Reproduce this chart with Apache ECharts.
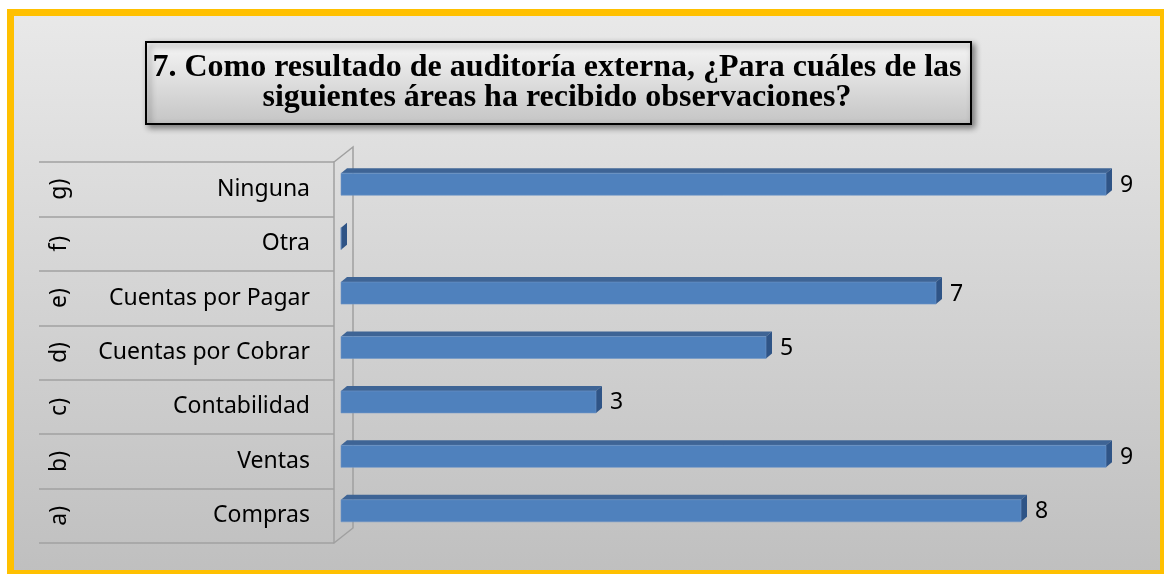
<!DOCTYPE html>
<html>
<head>
<meta charset="utf-8">
<script src="https://cdn.jsdelivr.net/npm/echarts@6/dist/echarts.min.js"></script>
<style>
  html, body { margin: 0; padding: 0; background: #fff; }
  #chart { width: 1164px; height: 574px; }
</style>
</head>
<body>
<div id="chart"></div>
<script>
var letters = ['a)', 'b)', 'c)', 'd)', 'e)', 'f)', 'g)'];
var categories = ['Compras', 'Ventas', 'Contabilidad', 'Cuentas por Cobrar', 'Cuentas por Pagar', 'Otra', 'Ninguna'];
var values = [8, 9, 3, 5, 7, 0, 9];

var chart = echarts.init(document.getElementById('chart'));

var labelFont = '"Noto Sans", "Open Sans", sans-serif';

// barra 3D: cara frontal, cara superior y lateral
function renderBar(params, api) {
	var idx = api.value(1);
	var val = api.value(0);
	var p0 = api.coord([0, idx]);
	var p1 = api.coord([val, idx]);
	var h = 22, dx = 6, dy = -5;
	var x0 = p0[0], x1 = p1[0];
	var yt = p0[1] - h / 2, yb = p0[1] + h / 2;
	var children = [
		{ type: 'polygon', shape: { points: [[x0, yt], [x0 + dx, yt + dy], [x1 + dx, yt + dy], [x1, yt]] }, style: { fill: '#3e6495' } },
		{ type: 'polygon', shape: { points: [[x1, yt], [x1 + dx, yt + dy], [x1 + dx, yb + dy], [x1, yb]] }, style: { fill: '#2f5486' } },
		{ type: 'rect', shape: { x: x0, y: yt, width: x1 - x0, height: h }, style: { fill: '#4f81bd', stroke: '#6f96c6', lineWidth: 0.6 } }
	];
	if (val > 0) {
		children.push({
			type: 'text',
			style: {
				text: String(val), x: x1 + dx + 8, y: p0[1] + 1,
				verticalAlign: 'middle', align: 'left',
				font: '23px ' + labelFont, fill: '#000'
			}
		});
	}
	return { type: 'group', children: children };
}

var option = {
	backgroundColor: '#fff',
	animation: false,
	title: {
		text: '7. Como resultado de auditoría externa, ¿Para cuáles de las\nsiguientes áreas ha recibido observaciones?',
		left: 552,
		top: 48,
		textAlign: 'center',
		textStyle: {
			fontFamily: '"Liberation Serif", "Times New Roman", serif',
			fontWeight: 'bold',
			fontSize: 32,
			lineHeight: 30,
			color: '#000'
		},
		z: 10
	},
	graphic: [
		{
			type: 'rect', z: -10,
			shape: { x: 10.5, y: 12.5, width: 1153, height: 561 },
			style: {
				stroke: '#ffc000', lineWidth: 7,
				fill: new echarts.graphic.LinearGradient(0, 0, 0, 1, [
					{ offset: 0, color: '#e9e9e9' },
					{ offset: 1, color: '#bfbfbf' }
				])
			}
		},
		{
			type: 'rect', z: 5,
			shape: { x: 146, y: 42, width: 825, height: 82 },
			style: {
				stroke: '#000', lineWidth: 2,
				fill: new echarts.graphic.LinearGradient(0, 0, 0, 1, [
					{ offset: 0, color: '#f6f6f6' },
					{ offset: 1, color: '#c4c4c4' }
				]),
				shadowBlur: 6, shadowOffsetX: 3, shadowOffsetY: 3, shadowColor: 'rgba(0,0,0,0.45)'
			}
		},
		{
			type: 'polyline', z: 1,
			shape: { points: [[334, 162], [353, 147], [353, 528], [334, 543]] },
			style: { stroke: '#a0a0a0', lineWidth: 1.5, fill: null }
		}
	],
	grid: [
		{ left: 341, right: 58, top: 157, height: 381 },
		{ left: 39, width: 295, top: 162, height: 381 }
	],
	xAxis: [
		{ type: 'value', gridIndex: 0, min: 0, max: 9, show: false },
		{ type: 'value', gridIndex: 1, min: 0, max: 1, show: false }
	],
	yAxis: [
		{ type: 'category', gridIndex: 0, data: categories, show: false },
		{
			type: 'category', gridIndex: 1, data: categories, position: 'right',
			axisLine: { show: true, onZero: false, lineStyle: { color: '#a0a0a0', width: 1.5 } },
			axisTick: { show: false },
			splitLine: { show: true, lineStyle: { color: '#a0a0a0', width: 1.5 } },
			axisLabel: { inside: true, margin: 24, fontSize: 23, fontFamily: labelFont, color: '#000' }
		},
		{
			type: 'category', gridIndex: 1, data: letters, position: 'left',
			axisLine: { show: false, onZero: false }, axisTick: { show: false }, splitLine: { show: false },
			axisLabel: { inside: true, margin: 9, rotate: 90, fontSize: 23, fontFamily: labelFont, color: '#000' }
		}
	],
	series: [
		{
			type: 'custom',
			xAxisIndex: 0,
			yAxisIndex: 0,
			renderItem: renderBar,
			encode: { x: 0, y: 1 },
			data: values.map(function (v, i) { return [v, i]; }),
			z: 3
		}
	]
};

chart.setOption(option);
</script>
</body>
</html>
